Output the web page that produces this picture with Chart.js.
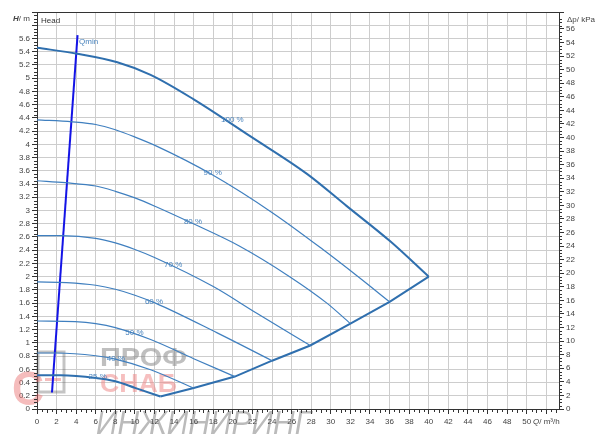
<!DOCTYPE html>
<html><head><meta charset="utf-8">
<script src="https://cdn.jsdelivr.net/npm/chart.js@4.4.1/dist/chart.umd.min.js"></script>
<style>html,body{margin:0;padding:0;background:#fff;}#wrap{width:600px;height:441px;}</style>
</head><body><div id="wrap"><canvas id="c" width="600" height="441"></canvas></div>
<script>
// ---- data (Q in m3/h, H in m) ----
const q100 = [0, 4.1, 8.2, 11.6, 16.0, 21.8, 27.6, 31.6, 36.1, 40.0];
const h100 = [5.46, 5.37, 5.24, 5.05, 4.68, 4.12, 3.55, 3.07, 2.53, 2.0];
const q90 = [0, 3.6, 6.0, 8.0, 10.0, 12.1, 17.9, 24.1, 29.2, 32.7, 36.0];
const h90 = [4.37, 4.34, 4.30, 4.22, 4.11, 3.98, 3.54, 2.96, 2.41, 2.01, 1.62];
const q80 = [0, 2.9, 6.0, 8.0, 10.0, 12.1, 15.8, 20.7, 25.8, 29.6, 32.0];
const h80 = [3.45, 3.42, 3.37, 3.29, 3.19, 3.06, 2.81, 2.46, 2.00, 1.60, 1.29];
const q70 = [0, 2.5, 6.0, 8.0, 10.0, 12.0, 18.0, 22.4, 27.9];
const h70 = [2.62, 2.62, 2.58, 2.51, 2.41, 2.29, 1.85, 1.45, 0.96];
const q60 = [0, 3.0, 6.0, 8.0, 10.0, 12.1, 18.4, 24.0];
const h60 = [1.92, 1.91, 1.87, 1.81, 1.72, 1.60, 1.15, 0.73];
const q50 = [0, 3.9, 6.0, 8.0, 11.6, 16.0, 20.2];
const h50 = [1.33, 1.32, 1.29, 1.23, 1.05, 0.76, 0.49];
const q40 = [0, 2.0, 6.0, 8.0, 11.6, 16.0];
const h40 = [0.846, 0.846, 0.805, 0.755, 0.594, 0.317];
const q25 = [0, 2.4, 6.0, 8.0, 10.0, 12.6];
const h25 = [0.51, 0.51, 0.47, 0.42, 0.32, 0.19];
const qBound = [12.6, 16.0, 20.2, 24.0, 27.9, 32.0, 36.0, 40.0];
const hBound = [0.19, 0.317, 0.49, 0.73, 0.96, 1.29, 1.62, 2.0];
const qMinQ = [1.53, 4.14];
const qMinH = [0.25, 5.65];
const curveLabels = ['100 %', '90 %', '80 %', '70 %', '60 %', '50 %', '40 %', '25 %'];
const labelQ = [19.95, 17.94, 15.93, 13.9, 11.95, 9.95, 8.06, 6.2];
const labelH = [4.37, 3.57, 2.83, 2.18, 1.62, 1.15, 0.756, 0.49];
const xMax = 53.3, yMax = 6.0, kpaMax = 58.5;

const pts = (qs, hs) => qs.map((q, i) => ({x: q, y: hs[i]}));
const CURVE = '#3f7fbf', CURVE_DARK = '#2f6fae', FONT = 'Liberation Sans, Arial, sans-serif';

function ds(qs, hs, w, col, mono) {
  return {data: pts(qs, hs), borderColor: col, borderWidth: w, pointRadius: 0,
    showLine: true, fill: false, tension: 0, cubicInterpolationMode: mono ? 'monotone' : 'default'};
}

function fitText(ctx, t, x, y, w) {
  const m = ctx.measureText(t).width;
  ctx.save(); ctx.translate(x, y); ctx.scale(w / m, 1); ctx.fillText(t, 0, 0); ctx.restore();
}

const extras = {
  id: 'extras',
  beforeDatasetsDraw(chart) {
    const ctx = chart.ctx;
    ctx.save();
    ctx.textBaseline = 'alphabetic';
    // watermark (logo text)
    ctx.globalAlpha = 0.35;
    ctx.strokeStyle = '#555'; ctx.lineWidth = 3;
    ctx.strokeRect(38, 352, 26, 40);
    ctx.globalAlpha = 0.45;
    ctx.fillStyle = '#e86a6a';
    ctx.font = 'bold 48px ' + FONT;
    fitText(ctx, 'С', 12, 405, 32);
    ctx.fillRect(45, 378, 16, 3);
    ctx.globalAlpha = 0.55;
    ctx.fillStyle = '#8a8a8a';
    ctx.font = 'bold 25px ' + FONT;
    fitText(ctx, 'ПРОФ', 100, 366, 87);
    ctx.fillStyle = '#ef8a8a';
    fitText(ctx, 'СНАБ', 100, 392, 77);
    ctx.globalAlpha = 0.4;
    ctx.fillStyle = '#555';
    ctx.font = 'italic 34px ' + FONT;
    fitText(ctx, 'ИНЖИНИРИНГ', 96, 434, 215);
    ctx.restore();
  },
  afterDraw(chart) {
    const ctx = chart.ctx, a = chart.chartArea;
    const sx = chart.scales.x, sy = chart.scales.y, sy2 = chart.scales.y2;
    ctx.save();
    ctx.strokeStyle = '#333'; ctx.lineWidth = 1;
    // top border
    ctx.beginPath(); ctx.moveTo(a.left, Math.round(a.top) + 0.5); ctx.lineTo(a.right, Math.round(a.top) + 0.5); ctx.stroke();
    // minor ticks
    ctx.beginPath();
    for (let i = 1; i * 0.5 < xMax; i++) {
      if (i % 4 === 0) continue;
      const px = Math.round(sx.getPixelForValue(i * 0.5)) + 0.5;
      ctx.moveTo(px, a.bottom); ctx.lineTo(px, a.bottom + (i % 2 === 0 ? 4 : 3));
    }
    for (let i = 1; i * 0.05 < yMax; i++) {
      if (i % 4 === 0) continue;
      const py = Math.round(sy.getPixelForValue(i * 0.05)) + 0.5;
      ctx.moveTo(a.left, py); ctx.lineTo(a.left - 3, py);
    }
    for (let i = 1; i * 0.5 < kpaMax; i++) {
      if (i % 4 === 0) continue;
      const py = Math.round(sy2.getPixelForValue(i * 0.5)) + 0.5;
      ctx.moveTo(a.right, py); ctx.lineTo(a.right + 3, py);
    }
    ctx.stroke();
    // curve labels
    ctx.fillStyle = '#4a84bd';
    ctx.font = '8px ' + FONT;
    ctx.textAlign = 'center'; ctx.textBaseline = 'middle';
    curveLabels.forEach((t, i) => ctx.fillText(t, sx.getPixelForValue(labelQ[i]), sy.getPixelForValue(labelH[i])));
    ctx.textAlign = 'left';
    ctx.fillText('Qmin', sx.getPixelForValue(4.3), sy.getPixelForValue(5.55));
    ctx.fillStyle = '#333';
    ctx.fillText('Head', a.left + 4, a.top + 9);
    // axis titles
    ctx.fillStyle = '#444';
    ctx.textBaseline = 'middle';
    ctx.font = 'italic bold 8px ' + FONT;
    ctx.fillText('H', 13, 19);
    let w = ctx.measureText('H').width;
    ctx.font = '8px ' + FONT;
    ctx.fillText('/ m', 13 + w, 19);
    ctx.fillText('Δp/ kPa', a.right + 8, 20);
    ctx.font = 'italic 8px ' + FONT;
    ctx.fillText('Q', 533, 422);
    w = ctx.measureText('Q').width;
    ctx.font = '8px ' + FONT;
    ctx.fillText('/ m³/h', 533 + w, 422);
    ctx.restore();
  }
};

new Chart(document.getElementById('c'), {
  type: 'scatter',
  data: {datasets: [
    ds(q90, h90, 1.2, CURVE, true),
    ds(q80, h80, 1.2, CURVE, true),
    ds(q70, h70, 1.2, CURVE, true),
    ds(q60, h60, 1.2, CURVE, true),
    ds(q50, h50, 1.2, CURVE, true),
    ds(q40, h40, 1.2, CURVE, true),
    ds(q25, h25, 2, CURVE_DARK, true),
    ds(q100, h100, 2, CURVE_DARK, true),
    ds(qBound, hBound, 2, CURVE_DARK, false),
    ds(qMinQ, qMinH, 2, '#1414e6', false)
  ]},
  options: {
    responsive: false, animation: false, devicePixelRatio: 1,
    layout: {padding: {top: 12, left: 0, right: 0, bottom: 0}},
    plugins: {legend: {display: false}, tooltip: {enabled: false}},
    scales: {
      x: {type: 'linear', min: 0, max: xMax, position: 'bottom',
        ticks: {stepSize: 2, includeBounds: false, autoSkip: false, maxRotation: 0, padding: 3,
          color: '#444', font: {size: 8, family: FONT},
          callback: v => v <= 50 ? String(Math.round(v)) : ''},
        grid: {color: '#cdcdcd', lineWidth: 1, tickLength: 5, tickColor: '#333'},
        border: {color: '#333', width: 1},
        afterFit: s => { s.height = 32; }},
      y: {type: 'linear', min: 0, max: yMax, position: 'left',
        ticks: {stepSize: 0.2, autoSkip: false, padding: 2, color: '#444', font: {size: 8, family: FONT},
          callback: v => { const r = Math.round(v * 10) / 10; return r > 5.7 ? '' : String(r); }},
        grid: {color: '#cdcdcd', lineWidth: 1, tickLength: 5, tickColor: '#333'},
        border: {color: '#333', width: 1},
        afterFit: s => { s.width = 37; }},
      y2: {type: 'linear', min: 0, max: kpaMax, position: 'right',
        ticks: {stepSize: 2, autoSkip: false, padding: 2, color: '#444', font: {size: 8, family: FONT},
          callback: v => v <= 56 ? String(Math.round(v)) : ''},
        grid: {drawOnChartArea: false, tickLength: 5, tickColor: '#333'},
        border: {color: '#333', width: 1},
        afterFit: s => { s.width = 41; }}
    }
  },
  plugins: [extras]
});
</script></body></html>
